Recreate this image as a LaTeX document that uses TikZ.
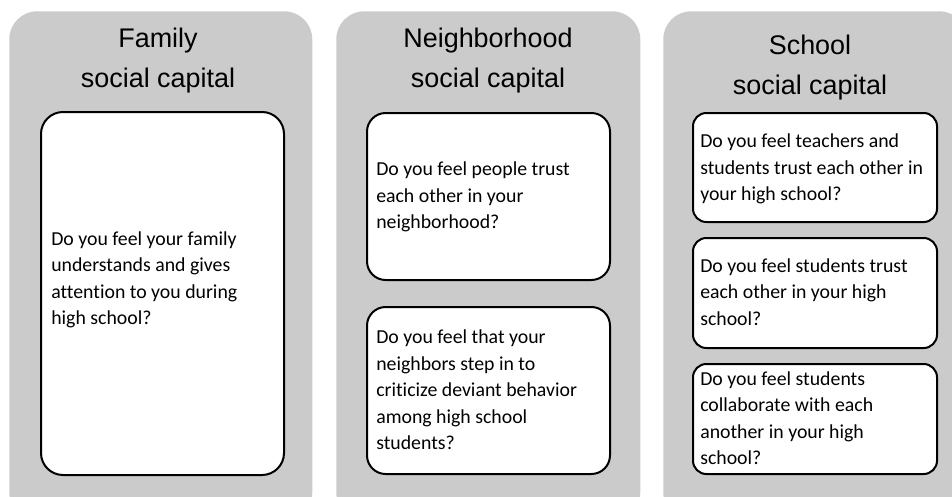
\documentclass[tikz,border=0pt]{standalone}
\usepackage{fontspec}
\setmainfont{Carlito}[Ligatures=NoCommon]
\newfontfamily\titlefont{Liberation Sans}
\definecolor{panelgray}{RGB}{203,203,203}
\begin{document}
\begin{tikzpicture}[x=0.75pt,y=-0.75pt,
  panel/.style={fill=panelgray, draw=none, rectangle, rounded corners=21pt, inner sep=0pt, anchor=north west},
  qbox/.style={draw=black, line width=1.5pt, fill=white, rectangle, inner sep=0pt, anchor=north west},
  qtext/.style={anchor=west, align=left, inner sep=0pt, font=\fontsize{14.85}{19.9}\selectfont},
  title/.style={align=center, inner sep=0pt, font=\titlefont\fontsize{20.2}{30}\selectfont}]
\useasboundingbox (0,0) rectangle (952,496);
\clip (0,0) rectangle (952,496);
% panels
\node[panel, minimum width=227.25pt, minimum height=381.75pt] (p1) at (9,11) {};
\node[panel, minimum width=228pt, minimum height=381.75pt] (p2) at (336,11) {};
\node[panel, minimum width=228pt, minimum height=381.75pt] (p3) at (663,11) {};
% titles
\node[title] (t1) at (158,61) {Family\\social capital};
\node[title] (t2) at (488,61) {Neighborhood\\social capital};
\node[title] (t3) at (810,68) {School\\social capital};
% family
\node[qbox, rounded corners=16.5pt, minimum width=182.25pt, minimum height=272.25pt] (f1) at (40,111) {};
\node[qtext] (f1t) at (51,280) {Do you feel your family\\understands and gives\\attention to you during\\high school?};
% neighborhood
\node[qbox, rounded corners=14pt, minimum width=182.25pt, minimum height=125.25pt] (n1) at (366,112) {};
\node[qtext] (n1t) at (376,197) {Do you feel people trust\\each other in your\\neighborhood?};
\node[qbox, rounded corners=14pt, minimum width=182.25pt, minimum height=125.25pt] (n2) at (366,306) {};
\node[qtext] (n2t) at (376,390) {Do you feel that your\\neighbors step in to\\criticize deviant behavior\\among high school\\students?};
% school
\node[qbox, rounded corners=10pt, minimum width=183pt, minimum height=81.75pt] (s1) at (692,112) {};
\node[qtext] (s1t) at (700,169) {Do you feel teachers and\\students trust each other in\\your high school?};
\node[qbox, rounded corners=10pt, minimum width=183pt, minimum height=82.5pt] (s2) at (692,237) {};
\node[qtext] (s2t) at (700,292) {Do you feel students trust\\each other in your high\\school?};
\node[qbox, rounded corners=10pt, minimum width=183pt, minimum height=82.5pt] (s3) at (692,363) {};
\node[qtext] (s3t) at (700,418) {Do you feel students\\collaborate with each\\another in your high\\school?};
\end{tikzpicture}
\end{document}
